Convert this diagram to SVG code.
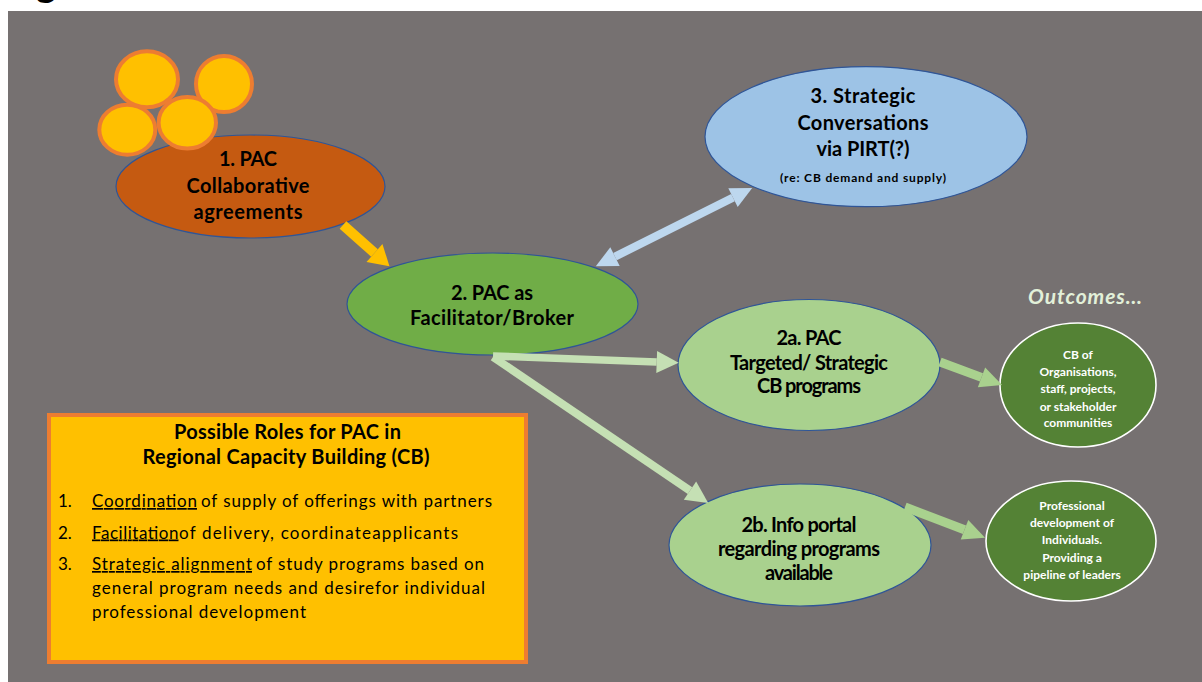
<svg xmlns="http://www.w3.org/2000/svg" width="1202" height="682" viewBox="0 0 1202 682">
  <style>
    .node-text { font-family: Lato, "Open Sans", "Liberation Sans", sans-serif; font-weight: 700; fill: #000; text-anchor: middle; }
    .big { font-size: 20px; }
    .small { font-size: 12px; }
    .out-text { font-family: Lato, "Open Sans", "Liberation Sans", sans-serif; font-weight: 700; font-size: 12px; fill: #fff; text-anchor: middle; }
    .list { font-family: Lato, "Open Sans", "Liberation Sans", sans-serif; font-size: 17px; fill: #000; }
    .title { font-family: Lato, "Open Sans", "Liberation Sans", sans-serif; font-weight: 700; font-size: 20px; fill: #000; text-anchor: middle; }
    .u { text-decoration: underline; }
    .oval { stroke: #2F5597; stroke-width: 1.2; }
    .outcome { fill: #548235; stroke: #fff; stroke-width: 1.6; }
    .coin { fill: #FFC000; stroke: #ED7D31; stroke-width: 4; }
  </style>
  <defs>
    <marker id="head-yellow" markerUnits="userSpaceOnUse" viewBox="0 -13 20 26" refX="0" refY="0" markerWidth="20" markerHeight="26" orient="auto" overflow="visible">
      <path d="M0,-12 L20,0 L0,12 Z" fill="#FFC000"/>
    </marker>
    <marker id="head-blue" markerUnits="userSpaceOnUse" viewBox="0 -11 22 22" refX="0" refY="0" markerWidth="22" markerHeight="22" orient="auto-start-reverse" overflow="visible">
      <path d="M0,-10.5 L21.5,0 L0,10.5 Z" fill="#BDD7EE"/>
    </marker>
    <marker id="head-pale" markerUnits="userSpaceOnUse" viewBox="0 -11 22 22" refX="0" refY="0" markerWidth="22" markerHeight="22" orient="auto" overflow="visible">
      <path d="M0,-11 L22,0 L0,11 Z" fill="#C5E0B4"/>
    </marker>
    <marker id="head-green" markerUnits="userSpaceOnUse" viewBox="0 -11 22 22" refX="0" refY="0" markerWidth="22" markerHeight="22" orient="auto" overflow="visible">
      <path d="M0,-10.5 L22,0 L0,10.5 Z" fill="#A9D18E"/>
    </marker>
  </defs>

  <!-- page and slide background -->
  <rect x="0" y="0" width="1202" height="682" fill="#fff"/>
  <text x="36" y="-3" font-family="Lato, 'Liberation Sans', sans-serif" font-weight="700" font-size="38" fill="#000">g</text>
  <rect x="8" y="11" width="1194" height="671" fill="#767171"/>

  <!-- 1. collaborative agreements, with coins on top -->
  <g id="node-agreements">
    <ellipse class="oval" cx="250.5" cy="186.5" rx="134.5" ry="51.5" fill="#C55A11"/>
    <ellipse class="coin" cx="224" cy="84" rx="28" ry="28"/>
    <ellipse class="coin" cx="127.3" cy="129.7" rx="28" ry="25"/>
    <ellipse class="coin" cx="147" cy="79.3" rx="31" ry="28"/>
    <ellipse class="coin" cx="187.3" cy="122.8" rx="28.7" ry="25.8"/>
    <text class="node-text big" x="248" y="166" textLength="58">1. PAC</text>
    <text class="node-text big" x="248" y="193" textLength="123">Collaborative</text>
    <text class="node-text big" x="248" y="219" textLength="109">agreements</text>
  </g>

  <!-- 3. strategic conversations -->
  <g id="node-strategic">
    <ellipse class="oval" cx="866" cy="136.7" rx="161" ry="70" fill="#9DC3E6"/>
    <text class="node-text big" x="863" y="103" textLength="105">3. Strategic</text>
    <text class="node-text big" x="863" y="129.5" textLength="131">Conversations</text>
    <text class="node-text big" x="863" y="156" textLength="93">via PIRT(?)</text>
    <text class="node-text small" x="863" y="182" textLength="166">(re: CB demand and supply)</text>
  </g>

  <!-- 2. facilitator / broker -->
  <g id="node-broker">
    <ellipse class="oval" cx="492.5" cy="304" rx="145.5" ry="51" fill="#70AD47"/>
    <text class="node-text big" x="492" y="300" textLength="82">2. PAC as</text>
    <text class="node-text big" x="492" y="325" textLength="164">Facilitator/Broker</text>
  </g>

  <!-- 2a. targeted programs -->
  <g id="node-programs">
    <ellipse class="oval" cx="809" cy="365" rx="131" ry="65.5" fill="#A9D18E"/>
    <text class="node-text big" x="809" y="345" textLength="65">2a. PAC</text>
    <text class="node-text big" x="809" y="370" textLength="158">Targeted/ Strategic</text>
    <text class="node-text big" x="809" y="393" textLength="104">CB programs</text>
  </g>

  <!-- 2b. info portal -->
  <g id="node-portal">
    <ellipse class="oval" cx="800" cy="545" rx="131" ry="61" fill="#A9D18E"/>
    <text class="node-text big" x="799" y="532" textLength="115">2b. Info portal</text>
    <text class="node-text big" x="799" y="556" textLength="162">regarding programs</text>
    <text class="node-text big" x="799" y="580" textLength="68">available</text>
  </g>

  <!-- outcomes -->
  <text x="1028" y="304" font-family="Lato, 'Open Sans', 'Liberation Sans', sans-serif" font-weight="700" font-style="italic" font-size="21" fill="#E2F0D9" textLength="114">Outcomes…</text>

  <g id="node-outcome-cb">
    <ellipse class="outcome" cx="1078" cy="385" rx="78" ry="62"/>
    <text class="out-text" x="1078" y="359">CB of</text>
    <text class="out-text" x="1078" y="376">Organisations,</text>
    <text class="out-text" x="1078" y="393">staff, projects,</text>
    <text class="out-text" x="1078" y="410.5">or stakeholder</text>
    <text class="out-text" x="1078" y="427">communities</text>
  </g>

  <g id="node-outcome-pd">
    <ellipse class="outcome" cx="1071" cy="541" rx="85" ry="60"/>
    <text class="out-text" x="1072" y="510">Professional</text>
    <text class="out-text" x="1072" y="527">development of</text>
    <text class="out-text" x="1072" y="544.4">Individuals.</text>
    <text class="out-text" x="1072" y="561.6">Providing a</text>
    <text class="out-text" x="1072" y="578.8">pipeline of leaders</text>
  </g>

  <!-- roles box -->
  <g id="node-roles">
    <rect x="49" y="415" width="477" height="247" fill="#FFC000" stroke="#ED7D31" stroke-width="4"/>
    <text class="title" x="287.5" y="438.5" textLength="227">Possible Roles for PAC in</text>
    <text class="title" x="286" y="464" textLength="287">Regional Capacity Building (CB)</text>

    <text class="list" x="58" y="507">1.</text>
    <text class="list u" x="92" y="507" textLength="105">Coordination</text>
    <text class="list" x="201" y="507" textLength="291">of supply of offerings with partners</text>

    <text class="list" x="58" y="538.5">2.</text>
    <text class="list u" x="92" y="538.5" textLength="86.5">Facilitation</text>
    <text class="list" x="179" y="538.5" textLength="279">of delivery, coordinateapplicants</text>

    <text class="list" x="58" y="570">3.</text>
    <text class="list u" x="92" y="570" textLength="160">Strategic alignment</text>
    <text class="list" x="256" y="570" textLength="228">of study programs based on</text>
    <text class="list" x="92" y="594" textLength="393">general program needs and desirefor individual</text>
    <text class="list" x="92" y="618" textLength="214">professional development</text>
  </g>

  <!-- connectors -->
  <g id="connectors" fill="none">
    <line x1="343" y1="225" x2="374.5" y2="253" stroke="#FFC000" stroke-width="10" marker-end="url(#head-yellow)"/>
    <line x1="615" y1="256.7" x2="733" y2="197.7" stroke="#BDD7EE" stroke-width="8" marker-start="url(#head-blue)" marker-end="url(#head-blue)"/>
    <line x1="493" y1="356" x2="656.7" y2="362" stroke="#C5E0B4" stroke-width="7.5" marker-end="url(#head-pale)"/>
    <line x1="493" y1="357" x2="690" y2="490.6" stroke="#C5E0B4" stroke-width="8" marker-end="url(#head-pale)"/>
    <line x1="940" y1="362" x2="981.5" y2="377.4" stroke="#A9D18E" stroke-width="9" marker-end="url(#head-green)"/>
    <line x1="905" y1="507" x2="964.5" y2="529.8" stroke="#A9D18E" stroke-width="9" marker-end="url(#head-green)"/>
  </g>
</svg>
